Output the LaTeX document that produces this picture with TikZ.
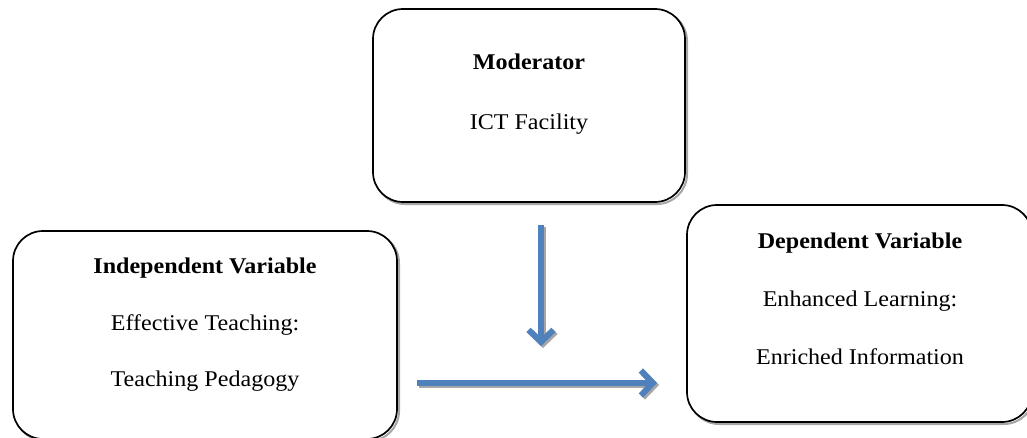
\documentclass[tikz,border=0pt]{standalone}
\usepackage{fontspec}
\setmainfont{Liberation Serif}[FakeStretch=1.07]
\usetikzlibrary{arrows.meta}
\definecolor{arrowblue}{HTML}{4F81BD}
\definecolor{shadowgray}{HTML}{A6A6A6}
\begin{document}
\begin{tikzpicture}[x=1pt,y=-1pt,
  box/.style={draw=black, fill=white, line width=1.7pt, rounded corners=30pt,
    inner sep=0pt, outer sep=0pt,
    preaction={draw=shadowgray, line width=2pt, transform canvas={shift={(2pt,-2pt)}}}},
  title/.style={anchor=base, font=\fontsize{22.5}{27}\selectfont\bfseries, inner sep=0pt},
  body/.style={anchor=base, font=\fontsize{22.5}{27}\selectfont, inner sep=0pt},
  flow/.style={draw=arrowblue, line width=6pt,
    -{Straight Barb[length=12pt, width=25pt]}},
  flowshadow/.style={draw=shadowgray, line width=6pt,
    -{Straight Barb[length=12pt, width=25pt]}}
]
\useasboundingbox (0,0) rectangle (1027,437);

% boxes
\node[box, minimum width=312pt, minimum height=193pt] (mod) at (529,105.5) {};
\node[box, minimum width=384pt, minimum height=208pt] (ind) at (205,335) {};
\node[box, minimum width=345pt, minimum height=217pt] (dep) at (859.5,313.5) {};

% texts
\node[title] (modt) at (529,69) {Moderator};
\node[body]  (modb) at (529,129) {ICT Facility};

\node[title] (indt) at (205,273) {Independent Variable};
\node[body]  (indb1) at (205,330) {Effective Teaching:};
\node[body]  (indb2) at (205,386) {Teaching Pedagogy};

\node[title] (dept) at (860,248) {Dependent Variable};
\node[body]  (depb1) at (860,306) {Enhanced Learning:};
\node[body]  (depb2) at (860,364) {Enriched Information};

% arrows
\coordinate (v1) at (541,225);
\coordinate (v2) at (541,346);
\coordinate (h1) at (417,383);
\coordinate (h2) at (657,383);
\draw[flowshadow] ([shift={(2,2)}]v1) -- ([shift={(2,2)}]v2);
\draw[flow] (v1) -- (v2);
\draw[flowshadow] ([shift={(2,2)}]h1) -- ([shift={(2,2)}]h2);
\draw[flow] (h1) -- (h2);
\end{tikzpicture}
\end{document}
